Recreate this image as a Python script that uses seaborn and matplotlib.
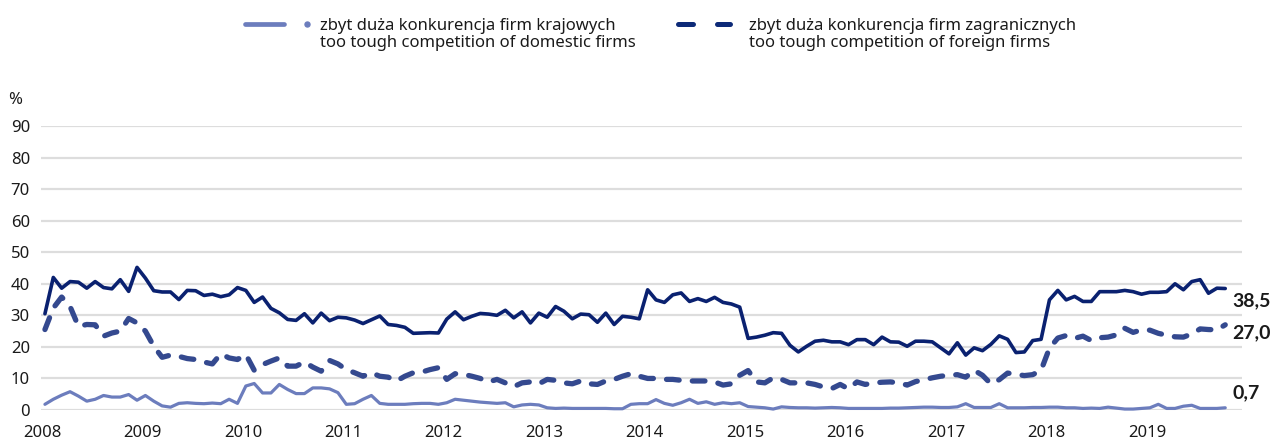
import numpy as np
import pandas as pd
import matplotlib
matplotlib.use("Agg")
import matplotlib.pyplot as plt
from matplotlib.lines import Line2D
import seaborn as sns

# Monthly survey readings, January 2008 - October 2019 (percent)
total_share = [
    30.5, 42.0, 38.6, 40.7, 40.5, 38.6, 40.7, 38.8, 38.4, 41.3, 37.6, 45.2,
    41.8, 37.8, 37.4, 37.4, 35.0, 37.9, 37.8, 36.3, 36.7, 35.9, 36.5, 38.8,
    37.9, 34.1, 35.8, 32.2, 30.8, 28.7, 28.4, 30.5, 27.6, 30.7, 28.3, 29.4,
    29.2, 28.5, 27.4, 28.6, 29.8, 27.1, 26.8, 26.2, 24.3, 24.4, 24.5, 24.4,
    28.8, 31.1, 28.6, 29.7, 30.6, 30.4, 30.0, 31.6, 29.2, 31.1, 27.6, 30.7,
    29.4, 32.8, 31.3, 28.9, 30.4, 30.2, 27.8, 30.7, 27.1, 29.7, 29.4, 28.9,
    38.1, 34.9, 34.1, 36.5, 37.1, 34.4, 35.3, 34.4, 35.7, 34.1, 33.6, 32.6,
    22.7, 23.1, 23.7, 24.5, 24.3, 20.5, 18.4, 20.2, 21.8, 22.1, 21.6, 21.6,
    20.7, 22.3, 22.3, 20.7, 23.1, 21.6, 21.5, 20.2, 21.8, 21.8, 21.6, 19.7,
    17.8, 21.3, 17.4, 19.7, 18.8, 20.8, 23.5, 22.4, 18.2, 18.4, 22.0, 22.4,
    34.9, 37.9, 34.9, 36.0, 34.4, 34.4, 37.5, 37.5, 37.5, 37.9, 37.5, 36.7,
    37.3, 37.3, 37.5, 40.0, 38.1, 40.7, 41.3, 37.0, 38.6, 38.5,
]
foreign_share = [
    25.5, 32.3, 35.8, 32.8, 26.5, 27.1, 27.0, 23.4, 24.4, 25.0, 29.0, 27.6,
    25.0, 20.2, 16.7, 17.4, 17.0, 16.3, 16.0, 15.2, 14.6, 17.8, 16.5, 16.0,
    17.6, 12.6, 14.4, 15.5, 16.5, 13.9, 13.9, 15.2, 13.6, 12.3, 15.7, 14.6,
    12.8, 11.8, 10.7, 11.8, 10.7, 10.4, 9.2, 10.7, 11.8, 12.0, 12.8, 13.4,
    9.7, 11.5, 11.3, 10.7, 10.0, 8.9, 9.7, 8.6, 7.4, 8.6, 8.9, 8.3,
    9.7, 9.4, 8.6, 8.3, 9.2, 8.3, 8.1, 9.2, 9.7, 10.7, 11.5, 10.7,
    10.0, 10.0, 9.7, 9.7, 9.4, 9.2, 9.2, 9.2, 8.9, 7.9, 8.3, 11.0,
    12.5, 8.9, 8.6, 10.2, 9.7, 8.6, 8.6, 8.6, 8.1, 7.3, 6.8, 8.1,
    6.7, 8.9, 8.1, 8.6, 8.8, 8.9, 8.6, 7.9, 9.0, 9.6, 10.2, 10.7,
    11.0, 11.2, 10.4, 12.6, 11.0, 8.3, 9.6, 11.7, 11.3, 10.9, 11.2, 12.6,
    19.6, 22.8, 23.6, 22.7, 23.4, 22.0, 22.9, 23.1, 23.8, 25.9, 24.6, 25.4,
    25.3, 24.3, 23.7, 23.2, 23.1, 24.1, 25.7, 25.5, 25.4, 27.0,
]
domestic_share = [
    1.8, 3.4, 4.7, 5.8, 4.4, 2.8, 3.4, 4.6, 4.1, 4.1, 4.9, 3.1,
    4.6, 2.8, 1.3, 0.9, 2.1, 2.3, 2.1, 2.0, 2.2, 2.0, 3.4, 2.1,
    7.6, 8.4, 5.4, 5.4, 8.1, 6.5, 5.2, 5.2, 7.0, 7.0, 6.7, 5.5,
    1.8, 2.0, 3.4, 4.6, 2.1, 1.8, 1.8, 1.8, 2.0, 2.1, 2.1, 1.8,
    2.3, 3.4, 3.1, 2.8, 2.5, 2.3, 2.1, 2.3, 1.0, 1.6, 1.8, 1.6,
    0.7, 0.5, 0.6, 0.5, 0.5, 0.5, 0.5, 0.5, 0.4, 0.4, 1.8, 2.0,
    2.0, 3.3, 2.1, 1.5, 2.3, 3.4, 2.1, 2.6, 1.8, 2.3, 2.0, 2.3,
    1.1, 0.9, 0.7, 0.3, 1.0, 0.8, 0.7, 0.7, 0.6, 0.7, 0.8, 0.7,
    0.5, 0.5, 0.5, 0.5, 0.5, 0.6, 0.6, 0.7, 0.8, 0.9, 0.9, 0.8,
    0.8, 1.0, 2.0, 0.8, 0.8, 0.8, 2.0, 0.7, 0.7, 0.7, 0.8, 0.8,
    0.9, 0.9, 0.7, 0.7, 0.5, 0.6, 0.5, 0.9, 0.6, 0.3, 0.3, 0.5,
    0.7, 1.8, 0.5, 0.5, 1.2, 1.5, 0.5, 0.5, 0.5, 0.7,
]
year_ticks = list(range(2008, 2020))
y_ticks = list(range(0, 100, 10))
legend_labels = [
    "zbyt duża konkurencja firm krajowych\ntoo tough competition of domestic firms",
    "zbyt duża konkurencja firm zagranicznych\ntoo tough competition of foreign firms",
]

# month positions expressed as fractional years
n = len(total_share)
t = 2008 + (np.arange(n) + 0.35) / 12.0
df = pd.DataFrame({"t": t, "total": total_share,
                   "foreign": foreign_share, "domestic": domestic_share})

DARK = "#0a2170"
MID = "#34498f"
LIGHT = "#6c7dbd"
LEGEND_DARK = "#0d2a78"
GRID = "#dddddd"
TEXT = "#1a1a1a"

sns.set_theme(style="white")
plt.rcParams["font.family"] = ["Noto Sans", "DejaVu Sans"]

fig = plt.figure(figsize=(12.77, 4.45), dpi=100)
ax = fig.add_axes([41 / 1277, 1 - 410 / 445, (1242 - 41) / 1277, (410 - 126) / 445])

sns.lineplot(data=df, x="t", y="domestic", ax=ax, color=LIGHT, linewidth=2.3,
             solid_capstyle="round", clip_on=False, zorder=3)
sns.lineplot(data=df, x="t", y="foreign", ax=ax, color=MID, linewidth=3.8,
             linestyle=(0, (2.4, 2.5)), dash_capstyle="round", clip_on=False, zorder=4)
sns.lineplot(data=df, x="t", y="total", ax=ax, color=DARK, linewidth=2.6,
             solid_joinstyle="round", clip_on=False, zorder=5)

ax.set_xlim(2007.99, 2019.946)
ax.set_ylim(0, 90)
ax.set_xticks(year_ticks)
ax.set_xticklabels([str(y) for y in year_ticks])
ax.set_yticks(y_ticks)
ax.set_xlabel("")
ax.set_ylabel("")
ax.grid(axis="y", color=GRID, linewidth=1.6)
ax.grid(axis="x", visible=False)
for s in ax.spines.values():
    s.set_visible(False)
ax.tick_params(axis="both", length=0, labelsize=12, colors=TEXT)
ax.tick_params(axis="y", pad=8)
ax.tick_params(axis="x", pad=11)
for lab in ax.get_yticklabels():
    lab.set_horizontalalignment("right")

fig.text(15 / 1277, 1 - 100 / 445, "%", fontsize=12, color=TEXT,
         ha="center", va="center")

# end-of-series value labels
ends = [(total_share[-1], -9), (foreign_share[-1], -6), (domestic_share[-1], 11)]
for val, dy in ends:
    ax.annotate(f"{val:.1f}".replace(".", ","), xy=(t[-1], val),
                xytext=(5, dy), textcoords="offset points",
                fontsize=14, fontweight="bold", color=TEXT,
                family=["Lato", "Roboto", "DejaVu Sans"],
                ha="left", va="center", annotation_clip=False)

# legend drawn at the top of the figure
def fx(px):
    return px / 1277

def fy(py):
    return 1 - py / 445

fig.add_artist(Line2D([fx(245), fx(284)], [fy(24.3), fy(24.3)], color=LIGHT,
                      linewidth=3.4, solid_capstyle="round"))
fig.add_artist(Line2D([fx(307)], [fy(24.3)], color=LIGHT, marker="o",
                      markersize=3.6, linestyle="none"))
fig.add_artist(Line2D([fx(677.5), fx(729.5)], [fy(23.7), fy(23.7)], color=LEGEND_DARK,
                      linewidth=3.6, dash_capstyle="round",
                      linestyle=(0, (3.0, 4.8))))
fig.text(fx(320), fy(18), legend_labels[0], fontsize=12, color=TEXT,
         ha="left", va="top", linespacing=1.05)
fig.text(fx(749), fy(18), legend_labels[1], fontsize=12, color=TEXT,
         ha="left", va="top", linespacing=1.05)

fig.savefig("out.png", dpi=100)
